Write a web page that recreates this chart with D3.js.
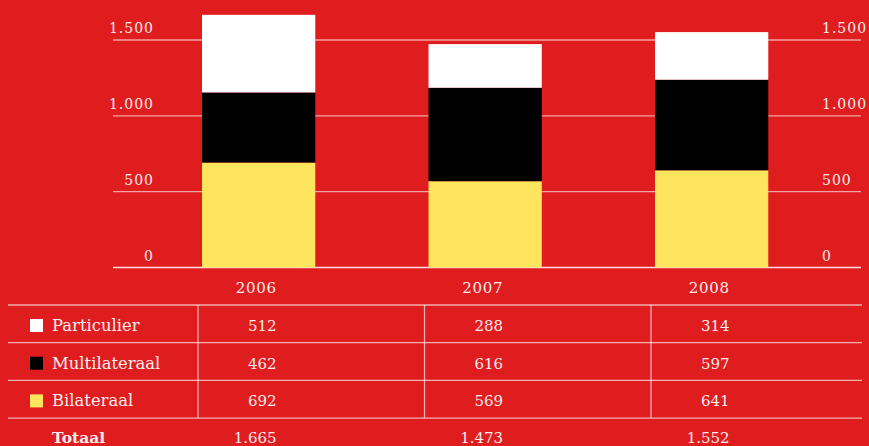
<!DOCTYPE html>
<html>
<head>
<meta charset="utf-8">
<script src="https://cdn.jsdelivr.net/npm/d3@7"></script>
<style>
  html, body { margin: 0; padding: 0; background: #df1c1e; }
  svg { display: block; }
  text { font-family: "DejaVu Serif", "Liberation Serif", serif; fill: #fbeeee; }
</style>
</head>
<body>
<svg id="chart" width="869" height="446"></svg>
<script>
// data
const years = ["2006", "2007", "2008"];
const series = ["Particulier", "Multilateraal", "Bilateraal"];
const particulier = [512, 288, 314];
const multilateraal = [462, 616, 597];
const bilateraal = [692, 569, 641];
const totaal = [1665, 1473, 1552];
const yTicks = [0, 500, 1000, 1500];

const colors = { Particulier: "#ffffff", Multilateraal: "#000000", Bilateraal: "#ffe55d" };

const svg = d3.select("#chart");

// thousands separator is a dot
const nl = d3.formatLocale({ decimal: ",", thousands: ".", grouping: [3], currency: ["€", ""] });
const fmt = nl.format(",d");

// scales
const x = d3.scaleBand().domain(years).range([145.4, 824.9]).paddingInner(0.5).paddingOuter(0.25);
const y = d3.scaleLinear().domain([0, 1500]).range([267.5, 40]);

// gridlines (bars go on top)
svg.append("g").selectAll("line")
  .data(yTicks)
  .join("line")
  .attr("x1", 113).attr("x2", 861)
  .attr("y1", d => y(d)).attr("y2", d => y(d))
  .attr("stroke", "#fff")
  .attr("stroke-opacity", d => d === 0 ? 0.85 : 0.6)
  .attr("stroke-width", 1.3);

// left tick labels
svg.append("g").selectAll("text")
  .data(yTicks)
  .join("text")
  .attr("x", 154)
  .attr("y", d => y(d) - 7)
  .attr("text-anchor", "end")
  .style("font-size", "14px")
  .style("letter-spacing", "1px")
  .text(d => fmt(d));

// right tick labels
svg.append("g").selectAll("text")
  .data(yTicks)
  .join("text")
  .attr("x", 822)
  .attr("y", d => y(d) - 7)
  .style("font-size", "14px")
  .style("letter-spacing", "1px")
  .text(d => fmt(d));

// stacked bars
const rows = years.map((yr, i) => ({
  year: yr,
  Bilateraal: bilateraal[i],
  Multilateraal: multilateraal[i],
  Particulier: particulier[i]
}));
const stack = d3.stack().keys(["Bilateraal", "Multilateraal", "Particulier"]);
const layers = stack(rows);

svg.append("g").selectAll("g")
  .data(layers)
  .join("g")
  .attr("fill", d => colors[d.key])
  .selectAll("rect")
  .data(d => d)
  .join("rect")
  .attr("x", d => x(d.data.year))
  .attr("width", x.bandwidth())
  .attr("y", d => y(d[1]))
  .attr("height", d => y(d[0]) - y(d[1]));

// column right edge for text
const colEnd = yr => x(yr) + x.bandwidth() / 2 + 18;

// year labels
svg.append("g").selectAll("text")
  .data(years)
  .join("text")
  .attr("x", d => colEnd(d))
  .attr("y", 293)
  .attr("text-anchor", "end")
  .style("font-size", "15px")
  .style("letter-spacing", "0.7px")
  .text(d => d);

// table
const rowTop = 305, rowH = 37.7;
const table = svg.append("g");

// horizontal rules
table.selectAll("line.h")
  .data([0, 1, 2, 3])
  .join("line")
  .attr("class", "h")
  .attr("x1", 8).attr("x2", 862)
  .attr("y1", d => rowTop + d * rowH).attr("y2", d => rowTop + d * rowH)
  .attr("stroke", "#fff").attr("stroke-opacity", 0.65).attr("stroke-width", 1.3);

// vertical rules
table.selectAll("line.v")
  .data(years)
  .join("line")
  .attr("class", "v")
  .attr("x1", d => x(d) - 4).attr("x2", d => x(d) - 4)
  .attr("y1", rowTop).attr("y2", rowTop + 3 * rowH)
  .attr("stroke", "#fff").attr("stroke-opacity", 0.65).attr("stroke-width", 1.3);

const seriesVals = { Particulier: particulier, Multilateraal: multilateraal, Bilateraal: bilateraal };

series.forEach((s, r) => {
  const base = rowTop + r * rowH + 26;
  table.append("rect")
    .attr("x", 30).attr("y", base - 12)
    .attr("width", 13).attr("height", 13)
    .attr("fill", colors[s]);
  table.append("text")
    .attr("x", 52).attr("y", base)
    .style("font-size", "16.4px")
    .text(s);
  table.append("g").selectAll("text")
    .data(seriesVals[s])
    .join("text")
    .attr("x", (d, i) => colEnd(years[i]))
    .attr("y", base)
    .attr("text-anchor", "end")
    .style("font-size", "15px")
    .text(d => fmt(d));
});

// totaal row
const totBase = rowTop + 3 * rowH + 25;
table.append("text")
  .attr("x", 52).attr("y", totBase)
  .style("font-size", "15.5px")
  .style("font-weight", "bold")
  .text("Totaal");
table.append("g").selectAll("text")
  .data(totaal)
  .join("text")
  .attr("x", (d, i) => colEnd(years[i]))
  .attr("y", totBase)
  .attr("text-anchor", "end")
  .style("font-size", "15px")
  .text(d => fmt(d));
</script>
</body>
</html>
